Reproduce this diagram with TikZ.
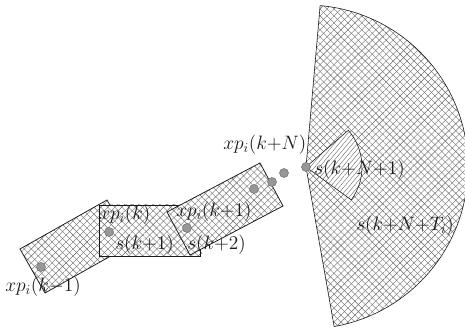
\documentclass[tikz,border=0pt]{standalone}
\usepackage{xcolor}
\usetikzlibrary{patterns.meta}
\definecolor{ink}{HTML}{1B1919}
\tikzset{
  grid hatch/.style={preaction={fill=white},
    preaction={pattern={Lines[angle=45,distance=4.2pt,line width=0.35pt]}, pattern color=ink!65},
    preaction={pattern={Lines[angle=-45,distance=4.2pt,line width=0.35pt]}, pattern color=ink!65}},
  line hatch/.style={preaction={fill=white},
    preaction={pattern={Lines[angle=50,distance=3pt,line width=0.35pt]}, pattern color=ink!65}},
}

\begin{document}
\begin{tikzpicture}[x=0.03cm,y=0.03cm,
  box/.style={grid hatch, draw=ink, line width=0.65pt},
  wedge/.style={line hatch, draw=ink, line width=0.5pt},
  dot/.style={circle, fill=ink!45, draw=ink!65, line width=0.4pt, minimum size=0.27cm, inner sep=0pt},
  lbl/.style={font=\Large, scale=1.15, transform shape, inner sep=0pt, anchor=base west, text=ink}]
\useasboundingbox (0,0) rectangle (465,329);
\draw[box, line width=0.5pt] (306,162) -- ++(85:162) arc[start angle=85,end angle=-80,radius=162] -- cycle;
\draw[wedge] (306,162) -- ++(41:56) arc[start angle=41,end angle=-36,radius=56] -- cycle;
\draw[box] (20,80) -- (107,129) -- (132,85) -- (45,36) -- cycle;
\draw[box] (99,73) rectangle (200,124);
\draw[box] (167,117) -- (260,166) -- (283,123) -- (190,74) -- cycle;
\foreach \p [count=\i] in {(41,62),(109,97),(187,101),(254,140),(272,147),(284,156),(306,162)}
  \node[dot] (p\i) at \p {};
\node[lbl] (xk0) at (5,37) {$xp_i(k{-}1)$};
\node[lbl] (xk1) at (99,109) {$xp_i(k)$};
\node[lbl] (s1) at (115,79) {$s(k{+}1)$};
\node[lbl] (xk2) at (176,112) {$xp_i(k{+}1)$};
\node[lbl] (s2) at (187,79) {$s(k{+}2)$};
\node[lbl] (xkN) at (223,179) {$xp_i(k{+}N)$};
\node[lbl] (sN1) at (314,154) {$s(k{+}N{+}1)$};
\node[lbl] (sNT) at (356,98) {$s(k{+}N{+}T_i)$};
\end{tikzpicture}
\end{document}
